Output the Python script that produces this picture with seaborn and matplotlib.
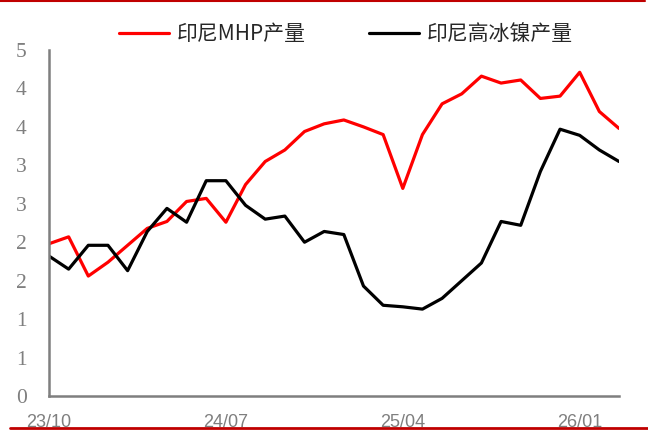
import numpy as np
import pandas as pd
import matplotlib
matplotlib.use("Agg")
import matplotlib.pyplot as plt
from matplotlib.lines import Line2D
import seaborn as sns

# monthly data, 2023/10 .. 2026/03
months = ["23/10", "23/11", "23/12", "24/01", "24/02", "24/03", "24/04", "24/05",
          "24/06", "24/07", "24/08", "24/09", "24/10", "24/11", "24/12", "25/01",
          "25/02", "25/03", "25/04", "25/05", "25/06", "25/07", "25/08", "25/09",
          "25/10", "25/11", "25/12", "26/01", "26/02", "26/03"]

mhp = [1.98, 2.07, 1.56, 1.74, 1.96, 2.18, 2.27, 2.53, 2.57, 2.26,
       2.75, 3.05, 3.20, 3.44, 3.54, 3.59, 3.50, 3.40, 2.70, 3.40,
       3.80, 3.93, 4.16, 4.07, 4.11, 3.87, 3.90, 4.21, 3.70, 3.48]

matte = [1.82, 1.65, 1.96, 1.96, 1.63, 2.14, 2.44, 2.26, 2.80, 2.80,
         2.48, 2.30, 2.34, 2.00, 2.14, 2.10, 1.43, 1.18, 1.16, 1.13,
         1.27, 1.50, 1.73, 2.27, 2.22, 2.92, 3.47, 3.39, 3.20, 3.05]

series_names = ["印尼MHP产量", "印尼高冰镍产量"]
tick_months = ["23/10", "24/07", "25/04", "26/01"]
y_ticks = [0, 0.5, 1, 1.5, 2, 2.5, 3, 3.5, 4, 4.5]

df = pd.DataFrame({
    "idx": list(range(len(months))) * 2,
    "value": mhp + matte,
    "series": [series_names[0]] * len(mhp) + [series_names[1]] * len(matte),
})

sns.set_style("white")
plt.rcParams["font.family"] = ["Noto Sans CJK SC", "DejaVu Sans"]

fig = plt.figure(figsize=(6.48, 4.30), dpi=100)
ax = fig.add_axes([49 / 648, 34 / 430, 570 / 648, 346 / 430])

sns.lineplot(data=df, x="idx", y="value", hue="series",
             palette={series_names[0]: "#FF0000", series_names[1]: "#000000"},
             linewidth=2.3, legend=False, ax=ax)

gray = "#7f7f7f"
ax.set_xlim(0, len(months) - 1)
ax.set_ylim(0, 4.5)
ax.set_xlabel("")
ax.set_ylabel("")

ax.set_xticks([months.index(m) for m in tick_months])
ax.set_xticklabels(tick_months, family=["Liberation Sans", "DejaVu Sans"],
                   fontsize=13, color=gray)
# axis labels are rounded to whole numbers, as in the source chart
ax.set_yticks(y_ticks)
ax.set_yticklabels([f"{np.floor(v + 0.5):.0f}" for v in y_ticks],
                   family=["Liberation Serif", "DejaVu Serif"],
                   fontsize=15.5, color=gray)

ax.tick_params(axis="x", direction="in", length=4, width=1.5, color=gray, pad=13)
ax.tick_params(axis="y", direction="in", length=4, width=1.5, color=gray, pad=16)

for side in ["top", "right"]:
    ax.spines[side].set_visible(False)
for side in ["left", "bottom"]:
    ax.spines[side].set_color(gray)
    ax.spines[side].set_linewidth(1.8)

handles = [Line2D([], [], color="#FF0000", linewidth=2.3),
           Line2D([], [], color="#000000", linewidth=2.3)]
fig.legend(handles, series_names, loc="center", ncol=2,
           bbox_to_anchor=(346 / 648, 1 - 34 / 430), frameon=False,
           fontsize=15, handlelength=2.4, handletextpad=0.4,
           columnspacing=3.0)

# report frame lines
fig.add_artist(Line2D([0, 645 / 648], [1 - 1 / 430, 1 - 1 / 430],
                      color="#C00000", linewidth=1.5))
fig.add_artist(Line2D([10 / 648, 1], [2 / 430, 2 / 430],
                      color="#C00000", linewidth=2))

fig.savefig("out.png", dpi=100)
